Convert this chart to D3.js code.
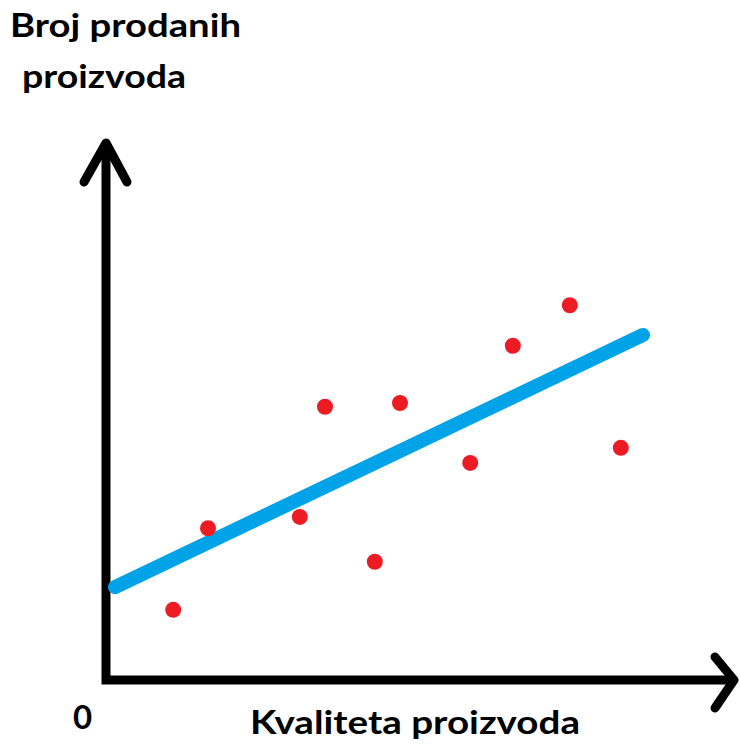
<!DOCTYPE html>
<html><head><meta charset="utf-8">
<script src="https://cdn.jsdelivr.net/npm/d3@7"></script>
<style>html,body{margin:0;padding:0;background:#fff;}svg{display:block;}</style>
</head><body>
<script>
// Data (arbitrary units)
const pointX = [1.12, 1.70, 3.23, 3.65, 4.48, 4.90, 6.07, 6.78, 7.73, 8.58];
const pointY = [1.30, 2.81, 3.02, 5.06, 2.19, 5.13, 4.02, 6.19, 6.94, 4.30];
const trendX = [0.15, 8.95];
const trendY = [1.72, 6.39];
const yTitleLines = ["Broj prodanih", "proizvoda"];
const xTitle = "Kvaliteta proizvoda";
const originLabel = "0";

const W = 740, H = 745;
const svg = d3.select("body").append("svg").attr("width", W).attr("height", H);

const x = d3.scaleLinear().domain([0, 10.5]).range([106, 736]);
const y = d3.scaleLinear().domain([0, 10]).range([680, 140]);

// Axes (hand-drawn style arrows)
const axisG = svg.append("g").attr("stroke", "#000").attr("stroke-width", 9)
  .attr("fill", "none").attr("stroke-linecap", "round").attr("stroke-linejoin", "round");
const x0 = x(0), y0 = y(0), yTop = y(10), xEnd = x(10.5);
axisG.append("path").attr("d", d3.line()([[x0, yTop + 4], [x0, y0], [xEnd - 4, y0]]))
  .attr("stroke-linecap", "butt").attr("stroke-linejoin", "miter");
axisG.append("path").attr("d", d3.line()([[x0 - 22, yTop + 42], [x0, yTop + 3], [x0 + 21, yTop + 42]]));
axisG.append("path").attr("d", d3.line()([[xEnd - 21, y0 - 23], [xEnd - 2, y0], [xEnd - 21, y0 + 28]]));

// Trend line
svg.append("line")
  .attr("x1", x(trendX[0])).attr("y1", y(trendY[0]))
  .attr("x2", x(trendX[1])).attr("y2", y(trendY[1]))
  .attr("stroke", "#00A2E8").attr("stroke-width", 14).attr("stroke-linecap", "round");

// Points
svg.append("g").selectAll("circle").data(pointX.map((v, i) => [v, pointY[i]])).join("circle")
  .attr("cx", d => x(d[0])).attr("cy", d => y(d[1])).attr("r", 8).attr("fill", "#ED1C24");

// Texts
const font = "Lato, 'Open Sans', sans-serif";
const t = svg.append("g").attr("font-family", font).attr("font-weight", "bold").attr("fill", "#000");
t.append("text").attr("x", 10).attr("y", 37).attr("font-size", 33).text(yTitleLines[0])
  .attr("textLength", 231).attr("lengthAdjust", "spacingAndGlyphs");
t.append("text").attr("x", 22).attr("y", 88).attr("font-size", 33).text(yTitleLines[1])
  .attr("textLength", 164).attr("lengthAdjust", "spacingAndGlyphs");
t.append("text").attr("x", 73).attr("y", 729).attr("font-size", 33).text(originLabel);
t.append("text").attr("x", 250).attr("y", 734).attr("font-size", 33).text(xTitle)
  .attr("textLength", 330).attr("lengthAdjust", "spacingAndGlyphs");
</script>
</body></html>
